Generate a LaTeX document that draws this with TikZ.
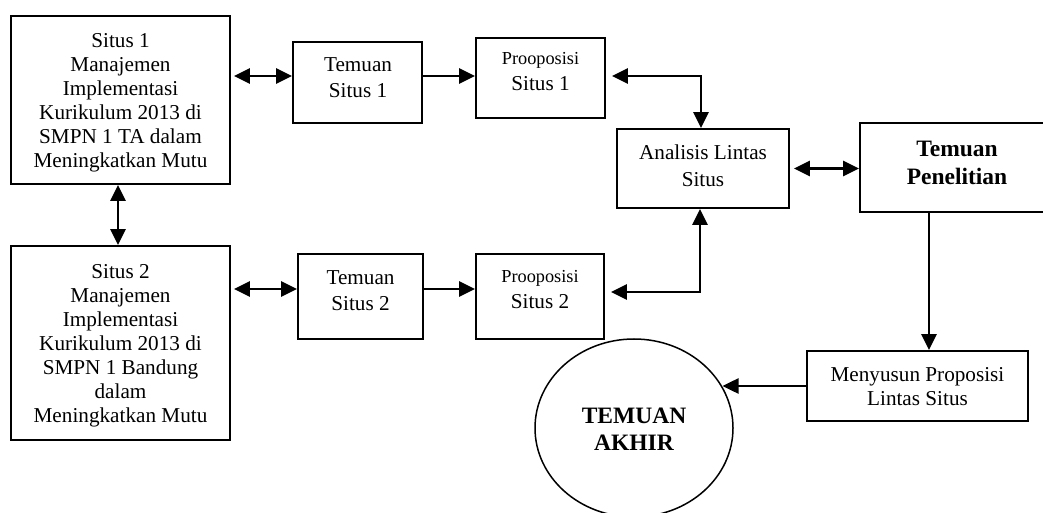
\documentclass[tikz,border=0pt]{standalone}
\usepackage{fontspec}
\setmainfont{Liberation Serif}
\usetikzlibrary{arrows.meta,shapes.geometric,calc}
\begin{document}
\begin{tikzpicture}[x=1bp,y=-1bp,
  box/.style={draw, line width=1.9bp, inner sep=0pt},
  txt/.style={align=center, inner sep=0pt, font=\fontsize{21.2bp}{24bp}\selectfont},
  btxt/.style={align=center, inner sep=0pt, font=\fontsize{23.5bp}{27.5bp}\selectfont\bfseries},
  arr/.style={line width=2.8bp, -{Triangle[length=16bp,width=15bp]}},
  dbl/.style={line width=2.8bp, {Triangle[length=16bp,width=15bp]}-{Triangle[length=16bp,width=15bp]}},
]
\useasboundingbox[fill=white] (0,0) rectangle (1043,513);

% boxes
\node[box, minimum width=219bp, minimum height=168bp] (s1) at (120.5,100) {};
\node[box, minimum width=219bp, minimum height=194bp] (s2) at (120.5,343) {};
\node[box, minimum width=129bp, minimum height=81bp] (t1) at (357.5,82.5) {};
\node[box, minimum width=129bp, minimum height=80bp] (p1) at (540.5,78) {};
\node[box, minimum width=125bp, minimum height=85bp] (t2) at (360.5,296.5) {};
\node[box, minimum width=128bp, minimum height=85bp] (p2) at (540,296.5) {};
\node[box, minimum width=172bp, minimum height=79bp] (an) at (703,168.5) {};
\node[box, minimum width=194bp, minimum height=89bp] (tp) at (957,167.5) {};
\node[box, minimum width=221bp, minimum height=70bp] (mn) at (917.5,386) {};
\node[ellipse, draw, line width=1.5bp, inner sep=0pt, minimum width=198bp, minimum height=178bp] (circ) at (634,428) {};

% texts
\node[txt] (s1t) at ($(s1.center)+(0,3)$) {Situs 1\\Manajemen\\Implementasi\\Kurikulum 2013 di\\SMPN 1 TA dalam\\Meningkatkan Mutu};
\node[txt] (s2t) at ($(s2.center)+(0,2.5)$) {Situs 2\\Manajemen\\Implementasi\\Kurikulum 2013 di\\SMPN 1 Bandung\\dalam\\Meningkatkan Mutu};
\node[txt] (t1t) at ($(t1.center)+(0.5,-4.4)$) {Temuan\\[2bp]Situs 1};
\node[txt] (p1t) at ($(p1.center)+(0,-6.2)$) {{\fontsize{18.3bp}{20bp}\selectfont Prooposisi}\\[2bp]Situs 1};
\node[txt] (t2t) at ($(t2.center)+(0,-6.3)$) {Temuan\\[2bp]Situs 2};
\node[txt] (p2t) at ($(p2.center)+(0,-7.3)$) {{\fontsize{18.3bp}{20bp}\selectfont Prooposisi}\\[2bp]Situs 2};
\node[txt] (ant) at ($(an.center)+(0,-2.5)$) {Analisis Lintas\\[2.5bp]Situs};
\node[btxt] (tpt) at ($(tp.center)+(0,-4.5)$) {Temuan\\Penelitian};
\node[txt] (mnt) at ($(mn.center)+(0,0.5)$) {Menyusun Proposisi\\[-0.7bp]Lintas Situs};
\node[btxt] (circt) at ($(circ.center)+(0,1)$) {TEMUAN\\AKHIR};

% helper coordinates
\coordinate (r1) at ([yshift=6.5bp]t1.west);
\coordinate (r2) at ([yshift=7.5bp]t2.west);
\coordinate (r3) at ([yshift=4.5bp]p2.east);
\coordinate (tpd) at ([xshift=-28bp]tp.south);

% connectors
\draw[dbl] ([xshift=-2.5bp]s1.south) -- ([xshift=-2.5bp]s2.north);
\draw[dbl, shorten <=3bp] (s1.east |- r1) -- (r1);
\draw[arr] (t1.east |- r1) -- (p1.west |- r1);
\draw[dbl, shorten <=6bp] (p1.east |- r1) -| ([xshift=-2bp]an.north);
\draw[dbl, shorten <=3bp] (s2.east |- r2) -- (r2);
\draw[arr] (t2.east |- r2) -- (p2.west |- r2);
\draw[dbl, shorten <=6bp] (r3) -| ([xshift=-3bp]an.south);
\draw[dbl, shorten <=4bp] (an.east) -- (an.east -| tp.west);
\draw[arr] (tpd) -- (tpd |- mn.north);
\draw[arr] (mn.west) -- (mn.west -| circ.25);
\end{tikzpicture}
\end{document}
